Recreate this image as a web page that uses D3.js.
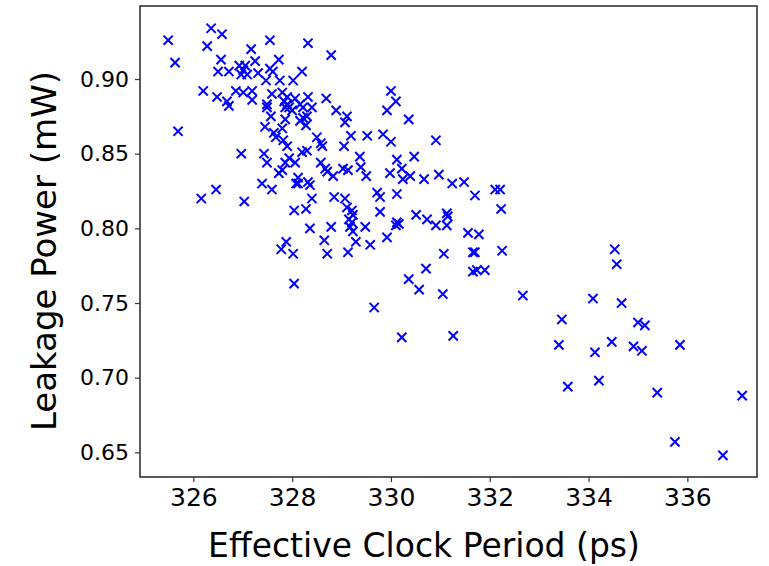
<!DOCTYPE html>
<html>
<head>
<meta charset="utf-8">
<script src="https://cdn.jsdelivr.net/npm/d3@7"></script>
<style>
  body { margin: 0; background: #fff; }
  text { font-family: "DejaVu Sans", sans-serif; fill: #000; }
</style>
</head>
<body>
<div id="chart"></div>
<script>
// effective clock period (ps) of each sample
var period = [
  325.49, 325.63, 325.69, 326.36, 326.58, 326.28, 326.56, 326.50, 326.72, 326.20,
  326.48, 326.68, 326.72, 326.86, 327.01, 327.19, 327.19, 327.17, 327.25, 326.93,
  327.05, 327.01, 326.97, 327.09, 327.31, 327.47, 327.55, 327.61, 327.55, 327.73,
  327.75, 328.02, 328.20, 328.32, 328.79, 327.59, 327.80, 327.90, 327.49, 327.49,
  327.57, 327.84, 327.90, 327.94, 327.86, 328.00, 328.06, 328.16, 328.22, 328.32,
  328.40, 328.69, 328.89, 329.11, 329.07, 327.45, 327.63, 327.80, 327.86, 327.67,
  327.82, 327.90, 328.22, 328.28, 328.30, 328.16, 328.50, 328.58, 328.61, 329.05,
  326.97, 327.43, 328.20, 328.30, 327.94, 327.49, 327.86, 327.80, 327.73, 328.06,
  328.58, 328.67, 328.71, 328.83, 329.03, 329.13, 328.12, 328.08, 328.12, 328.32,
  328.36, 327.39, 327.59, 326.46, 326.16, 327.03, 328.40, 328.85, 329.07, 329.11,
  328.04, 328.28, 328.36, 328.79, 327.88, 327.78, 328.02, 328.65, 328.71, 329.13,
  328.04, 330.00, 330.10, 329.92, 330.36, 329.19, 329.52, 329.84, 330.00, 330.91,
  329.37, 330.12, 330.47, 329.39, 329.50, 329.98, 330.22, 330.24, 330.39, 330.67,
  330.97, 331.24, 331.48, 331.70, 332.11, 332.21, 332.23, 329.21, 329.23, 329.72,
  329.78, 330.12, 329.78, 330.51, 330.73, 331.13, 331.15, 329.15, 329.21, 329.17,
  329.23, 329.48, 330.12, 330.16, 330.10, 330.91, 331.13, 331.56, 331.78, 329.29,
  329.58, 329.92, 331.07, 331.66, 331.70, 332.25, 330.71, 331.66, 331.74, 331.90,
  330.36, 330.57, 331.05, 332.67, 329.66, 330.22, 331.26, 334.53, 334.57, 334.09,
  334.67, 333.46, 335.00, 335.14, 333.40, 334.47, 334.13, 334.91, 335.08, 335.85,
  333.58, 334.21, 335.39, 337.11, 335.75, 336.72
];

// leakage power (mW) of each sample, same order
var leakage = [
  0.926, 0.911, 0.865, 0.934, 0.930, 0.922, 0.913, 0.905, 0.905, 0.892,
  0.888, 0.885, 0.882, 0.892, 0.891, 0.892, 0.886, 0.920, 0.912, 0.909,
  0.909, 0.906, 0.903, 0.903, 0.904, 0.899, 0.907, 0.905, 0.926, 0.913,
  0.899, 0.899, 0.905, 0.924, 0.916, 0.890, 0.891, 0.888, 0.883, 0.881,
  0.875, 0.885, 0.883, 0.881, 0.881, 0.879, 0.887, 0.883, 0.881, 0.888,
  0.881, 0.887, 0.879, 0.875, 0.871, 0.868, 0.864, 0.867, 0.873, 0.861,
  0.859, 0.855, 0.874, 0.869, 0.875, 0.872, 0.861, 0.857, 0.855, 0.855,
  0.850, 0.850, 0.851, 0.852, 0.847, 0.844, 0.844, 0.839, 0.837, 0.844,
  0.844, 0.840, 0.838, 0.835, 0.840, 0.839, 0.834, 0.830, 0.830, 0.831,
  0.829, 0.830, 0.826, 0.826, 0.820, 0.818, 0.820, 0.821, 0.820, 0.814,
  0.812, 0.813, 0.800, 0.801, 0.791, 0.786, 0.783, 0.792, 0.783, 0.784,
  0.763, 0.892, 0.885, 0.879, 0.873, 0.862, 0.862, 0.863, 0.858, 0.859,
  0.848, 0.846, 0.848, 0.841, 0.835, 0.837, 0.840, 0.833, 0.835, 0.833,
  0.836, 0.830, 0.831, 0.822, 0.826, 0.826, 0.813, 0.812, 0.809, 0.824,
  0.821, 0.823, 0.811, 0.809, 0.806, 0.810, 0.808, 0.806, 0.804, 0.801,
  0.798, 0.801, 0.804, 0.803, 0.802, 0.802, 0.802, 0.797, 0.796, 0.791,
  0.789, 0.794, 0.783, 0.784, 0.784, 0.785, 0.773, 0.771, 0.772, 0.772,
  0.766, 0.759, 0.756, 0.755, 0.747, 0.727, 0.728, 0.786, 0.776, 0.753,
  0.750, 0.739, 0.737, 0.735, 0.722, 0.724, 0.717, 0.721, 0.718, 0.722,
  0.694, 0.698, 0.690, 0.688, 0.657, 0.648
];

var xTicks = [326, 328, 330, 332, 334, 336];
var yTicks = [0.65, 0.70, 0.75, 0.80, 0.85, 0.90];

var W = 769, H = 566;
var plotL = 140, plotR = 757, plotT = 6, plotB = 477;

var svg = d3.select("#chart")
    .append("svg")
        .attr("width", W)
        .attr("height", H);

var x = d3.scaleLinear()
        .domain([324.92, 337.41])
        .range([plotL, plotR]);

var y = d3.scaleLinear()
        .domain([0.6335, 0.9489])
        .range([plotB, plotT]);

var data = period.map(function(d, i) { return [d, leakage[i]]; });

// x markers
var s = 4.6;
svg.append("g")
    .selectAll("path")
    .data(data)
  .enter().append("path")
    .attr("d", "M" + (-s) + "," + (-s) + "L" + s + "," + s + "M" + (-s) + "," + s + "L" + s + "," + (-s))
    .attr("transform", function(d) { return "translate(" + x(d[0]) + "," + y(d[1]) + ")"; })
    .attr("stroke", "#0000ff")
    .attr("stroke-width", 2)
    .attr("fill", "none");

// axes
var xAxis = svg.append("g")
    .attr("transform", "translate(0," + plotB + ")")
    .call(d3.axisBottom(x)
        .tickValues(xTicks)
        .tickFormat(d3.format("d"))
        .tickSize(5)
        .tickPadding(6));

var yAxis = svg.append("g")
    .attr("transform", "translate(" + plotL + ",0)")
    .call(d3.axisLeft(y)
        .tickValues(yTicks)
        .tickFormat(d3.format(".2f"))
        .tickSize(5)
        .tickPadding(6));

xAxis.select(".domain").remove();
yAxis.select(".domain").remove();
xAxis.selectAll("line").attr("stroke", "#333").attr("stroke-width", 1.2);
yAxis.selectAll("line").attr("stroke", "#333").attr("stroke-width", 1.2);
xAxis.selectAll("text")
    .attr("font-family", "DejaVu Sans")
    .attr("font-size", 25)
    .attr("fill", "#111");
yAxis.selectAll("text")
    .attr("font-family", "DejaVu Sans")
    .attr("font-size", 22)
    .attr("fill", "#111");

// frame
svg.append("rect")
    .attr("x", plotL)
    .attr("y", plotT)
    .attr("width", plotR - plotL)
    .attr("height", plotB - plotT)
    .attr("fill", "none")
    .attr("stroke", "#333")
    .attr("stroke-width", 1.6);

// titles
svg.append("text")
    .attr("x", 424)
    .attr("y", 557)
    .attr("text-anchor", "middle")
    .attr("font-size", 33)
    .text("Effective Clock Period (ps)");

svg.append("text")
    .attr("transform", "translate(56," + 251 + ") rotate(-90)")
    .attr("text-anchor", "middle")
    .attr("font-size", 34)
    .text("Leakage Power (mW)");
</script>
</body>
</html>
